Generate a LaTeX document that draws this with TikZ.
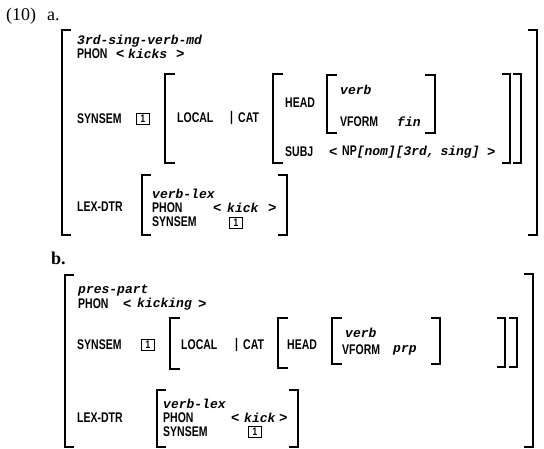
\documentclass[tikz,border=0pt]{standalone}
\usepackage{fontspec}
\usepackage{tikz}
\setmainfont{Liberation Serif}
\newfontfamily\avmsans[FakeStretch=0.75]{Liberation Sans}
\newfontfamily\avmmono{Liberation Mono}
\newcommand{\lbl}{\avmsans\bfseries\fontsize{14}{14}\selectfont}
\newcommand{\typ}{\avmmono\bfseries\itshape\fontsize{13}{13}\selectfont}
\newcommand{\ang}{\avmmono\bfseries\fontsize{14}{14}\selectfont}

\begin{document}
\begin{tikzpicture}[x=1pt,y=-1pt,
	brk/.style={line width=1.4pt},
	txt/.style={anchor=west,inner sep=0pt,font=\lbl},
	val/.style={anchor=west,inner sep=0pt,font=\typ},
	agl/.style={anchor=west,inner sep=0pt,font=\ang},
	tagbox/.style={draw,line width=1pt,inner sep=0pt,minimum width=12.5pt,minimum height=11.5pt,font=\avmsans\bfseries\fontsize{11}{11}\selectfont}]
	\useasboundingbox (0,0) rectangle (544,449);
	\node[anchor=west,inner sep=0pt,font=\fontsize{18}{18}\selectfont] (ex) at (6,16) {(10)};
	\node[anchor=west,inner sep=0pt,font=\fontsize{18}{18}\selectfont] (a) at (47,16) {a.};
	\draw[brk] (71,30) -- (62,30) -- (62,235) -- (71,235);
	\draw[brk] (528,30) -- (537,30) -- (537,235) -- (528,235);
	\node[val] (atype) at (77,41) {3rd-sing-verb-md};
	\node[txt] (aphon) at (77,54) {PHON};
	\node[agl] (alt1) at (116,54) {<};
	\node[val] (akicks) at (128,54) {kicks};
	\node[agl] (agt1) at (176,54) {>};
	\node[txt] (asyn) at (77,119) {SYNSEM};
	\node[tagbox] (atag1) at (143,119) {1};
	\draw[brk] (175,74) -- (165,74) -- (165,163) -- (175,163);
	\node[txt] (aloc) at (177,118) {LOCAL};
	\node[txt] (abar) at (230,118) {|};
	\node[txt] (acat) at (238,118) {CAT};
	\draw[brk] (283,74) -- (273,74) -- (273,163) -- (283,163);
	\node[txt] (ahead) at (285,103) {HEAD};
	\draw[brk] (337,75) -- (327,75) -- (327,133) -- (337,133);
	\draw[brk] (425,75) -- (435,75) -- (435,133) -- (425,133);
	\node[val] (averb) at (340,90) {verb};
	\node[txt] (avf) at (340,122) {VFORM};
	\node[val] (afin) at (397,122) {fin};
	\node[txt] (asubj) at (285,152) {SUBJ};
	\node[agl] (alt2) at (329,152) {<};
	\node[anchor=west,inner sep=0pt] (anp) at (342,152) {{\lbl NP}{\typ[nom][3rd,\kern-2pt\ sing]}};
	\node[agl] (agt2) at (487,152) {>};
	\draw[brk] (502,74) -- (510,74) -- (510,163) -- (502,163);
	\draw[brk] (513,74) -- (521,74) -- (521,163) -- (513,163);
	\node[txt] (alex) at (77,207) {LEX-DTR};
	\draw[brk] (151,175) -- (142,175) -- (142,235) -- (151,235);
	\draw[brk] (278,175) -- (287,175) -- (287,235) -- (278,235);
	\node[val] (avlex) at (152,194) {verb-lex};
	\node[txt] (aphon2) at (152,208) {PHON};
	\node[agl] (alt3) at (213,208) {<};
	\node[val] (akick) at (227,208) {kick};
	\node[agl] (agt3) at (268,208) {>};
	\node[txt] (asyn2) at (152,222) {SYNSEM};
	\node[tagbox] (atag2) at (236,223) {1};
	\node[anchor=west,inner sep=0pt,font=\bfseries\fontsize{18}{18}\selectfont] (b) at (51,258) {b.};
	\draw[brk] (74,275) -- (65,275) -- (65,447) -- (74,447);
	\draw[brk] (524,274) -- (533,274) -- (533,447) -- (524,447);
	\node[val] (btype) at (78,291) {pres-part};
	\node[txt] (bphon) at (78,304) {PHON};
	\node[agl] (blt1) at (123,304) {<};
	\node[val] (bkicking) at (137,304) {kicking};
	\node[agl] (bgt1) at (198,304) {>};
	\node[txt] (bsyn) at (77,345) {SYNSEM};
	\node[tagbox] (btag1) at (148,345) {1};
	\draw[brk] (180,318) -- (170,318) -- (170,369) -- (180,369);
	\node[txt] (bloc) at (181,345) {LOCAL};
	\node[txt] (bbar) at (235,345) {|};
	\node[txt] (bcat) at (243,345) {CAT};
	\draw[brk] (288,318) -- (278,318) -- (278,368) -- (288,368);
	\node[txt] (bhead) at (287,345) {HEAD};
	\draw[brk] (342,318) -- (332,318) -- (332,364) -- (342,364);
	\draw[brk] (431,318) -- (440,318) -- (440,364) -- (431,364);
	\node[val] (bverb) at (345,333) {verb};
	\node[txt] (bvf) at (342,350) {VFORM};
	\node[val] (bprp) at (393,350) {prp};
	\draw[brk] (497,318) -- (505,318) -- (505,367) -- (497,367);
	\draw[brk] (509,318) -- (517,318) -- (517,367) -- (509,367);
	\node[txt] (blex) at (77,418) {LEX-DTR};
	\draw[brk] (166,390) -- (157,390) -- (157,447) -- (166,447);
	\draw[brk] (289,390) -- (298,390) -- (298,447) -- (289,447);
	\node[val] (bvlex) at (163,404) {verb-lex};
	\node[txt] (bphon2) at (163,418) {PHON};
	\node[agl] (blt3) at (231,418) {<};
	\node[val] (bkick) at (244,418) {kick};
	\node[agl] (bgt3) at (279,418) {>};
	\node[txt] (bsyn2) at (163,432) {SYNSEM};
	\node[tagbox] (btag2) at (255,432) {1};
\end{tikzpicture}
\end{document}
